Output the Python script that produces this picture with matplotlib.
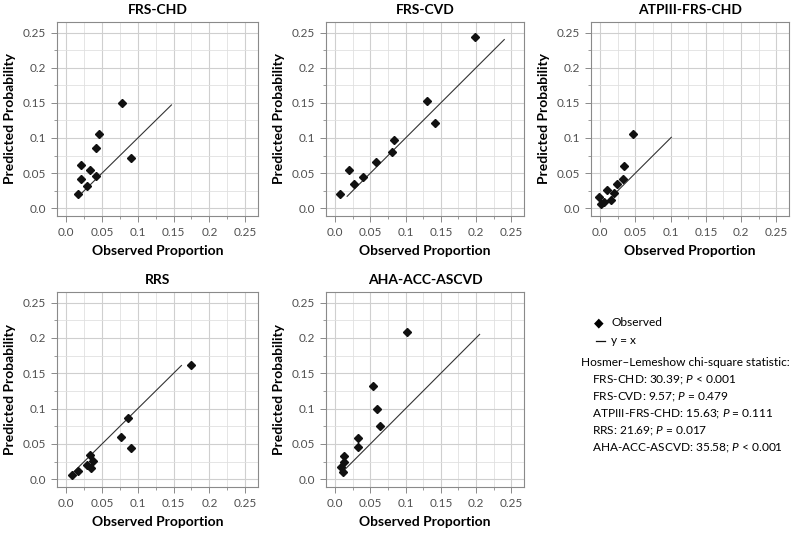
import matplotlib.pyplot as plt
from matplotlib.ticker import MultipleLocator, FixedLocator, FixedFormatter

plt.rcParams['font.family'] = ['Lato', 'DejaVu Sans']
plt.rcParams['mathtext.fontset'] = 'custom'
plt.rcParams['mathtext.rm'] = 'Lato'
plt.rcParams['mathtext.it'] = 'Lato:italic'

# observed proportion / predicted probability per score
titles = ['FRS-CHD', 'FRS-CVD', 'ATPIII-FRS-CHD', 'RRS', 'AHA-ACC-ASCVD']

frs_chd_obs = [0.016, 0.020, 0.020, 0.029, 0.033, 0.042, 0.042, 0.046, 0.078, 0.091]
frs_chd_pred = [0.021, 0.041, 0.062, 0.031, 0.055, 0.046, 0.086, 0.105, 0.150, 0.072]

frs_cvd_obs = [0.007, 0.019, 0.027, 0.040, 0.058, 0.080, 0.084, 0.131, 0.141, 0.199]
frs_cvd_pred = [0.021, 0.055, 0.034, 0.045, 0.066, 0.080, 0.097, 0.152, 0.121, 0.243]

atp_obs = [-0.002, 0.001, 0.006, 0.010, 0.015, 0.020, 0.024, 0.033, 0.034, 0.046]
atp_pred = [0.016, 0.006, 0.009, 0.026, 0.012, 0.022, 0.034, 0.042, 0.060, 0.105]

rrs_obs = [0.008, 0.017, 0.029, 0.033, 0.034, 0.038, 0.077, 0.086, 0.090, 0.174]
rrs_pred = [0.006, 0.011, 0.020, 0.035, 0.016, 0.026, 0.060, 0.087, 0.044, 0.162]

aha_obs = [0.008, 0.011, 0.012, 0.012, 0.033, 0.033, 0.054, 0.060, 0.063, 0.102]
aha_pred = [0.017, 0.010, 0.033, 0.024, 0.045, 0.058, 0.132, 0.099, 0.075, 0.208]

# y = x reference line extent per panel
line_start = [0.016, 0.017, 0.005, 0.006, 0.012]
line_end = [0.147, 0.240, 0.101, 0.161, 0.205]

obs_all = [frs_chd_obs, frs_cvd_obs, atp_obs, rrs_obs, aha_obs]
pred_all = [frs_chd_pred, frs_cvd_pred, atp_pred, rrs_pred, aha_pred]

tick_vals = [0.0, 0.05, 0.1, 0.15, 0.2, 0.25]
tick_labels = ['0.0', '0.05', '0.1', '0.15', '0.2', '0.25']

stats_lines = [
    'FRS-CHD: 30.39; $P$ < 0.001',
    'FRS-CVD: 9.57; $P$ = 0.479',
    'ATPIII-FRS-CHD: 15.63; $P$ = 0.111',
    'RRS: 21.69; $P$ = 0.017',
    'AHA-ACC-ASCVD: 35.58; $P$ < 0.001',
]

W, H = 800, 533
fig = plt.figure(figsize=(8, 5.33), dpi=100)

# axes boxes in pixels: left, top, right, bottom
boxes = [(57, 22, 258, 216), (326, 22, 524, 216), (591, 22, 789, 216),
         (57, 292, 258, 487), (326, 292, 524, 487)]

for i, (l, t, r, b) in enumerate(boxes):
    ax = fig.add_axes([l / W, 1 - b / H, (r - l) / W, (b - t) / H])
    ax.set_xlim(-0.013, 0.268)
    ax.set_ylim(-0.011, 0.265)
    ax.xaxis.set_major_locator(FixedLocator(tick_vals))
    ax.xaxis.set_major_formatter(FixedFormatter(tick_labels))
    ax.yaxis.set_major_locator(FixedLocator(tick_vals))
    ax.yaxis.set_major_formatter(FixedFormatter(tick_labels))
    ax.xaxis.set_minor_locator(MultipleLocator(0.025))
    ax.yaxis.set_minor_locator(MultipleLocator(0.025))
    ax.grid(True, which='major', color='#cfcfcf', linewidth=0.8)
    ax.grid(True, which='minor', color='#e0e0e0', linewidth=0.6)
    ax.set_axisbelow(True)
    for s in ax.spines.values():
        s.set_color('#8a8a8a')
        s.set_linewidth(0.8)
    ax.tick_params(which='major', length=4, width=0.7, color='#8a8a8a',
                   labelsize=8.5, labelcolor='#505050', pad=4)
    ax.tick_params(which='minor', length=2.5, width=0.6, color='#8a8a8a')

    ax.plot([line_start[i], line_end[i]], [line_start[i], line_end[i]],
            color='#333333', linewidth=0.8, zorder=2)
    ax.plot(obs_all[i], pred_all[i], linestyle='none', marker='D',
            markersize=4.3, color='#111111', zorder=3)

    ax.set_title(titles[i], fontsize=10, fontweight='bold', pad=6)
    ax.set_xlabel('Observed Proportion', fontsize=10, fontweight='bold', labelpad=5)
    ax.set_ylabel('Predicted Probability', fontsize=10, fontweight='bold', labelpad=5)

# legend panel
def px(x, y):
    return x / W, 1 - y / H

fs = 8.6
fig.text(*px(599, 323), '\u25C6', fontsize=9, ha='center', va='center',
         family=['DejaVu Sans'])
fig.text(*px(611, 323), 'Observed', fontsize=fs, va='center')
fig.add_artist(plt.Line2D([596 / W, 605 / W], [1 - 341 / H, 1 - 341 / H],
                          color='#111111', linewidth=0.9))
fig.text(*px(611, 341), 'y = x', fontsize=fs, va='center')
fig.text(*px(581, 362), 'Hosmer\u2013Lemeshow chi-square statistic:', fontsize=fs,
         va='center', color='#000000')
for k, s in enumerate(stats_lines):
    fig.text(*px(592, 380 + k * 17.1), s, fontsize=fs, va='center')

fig.savefig('out.png', dpi=100)
